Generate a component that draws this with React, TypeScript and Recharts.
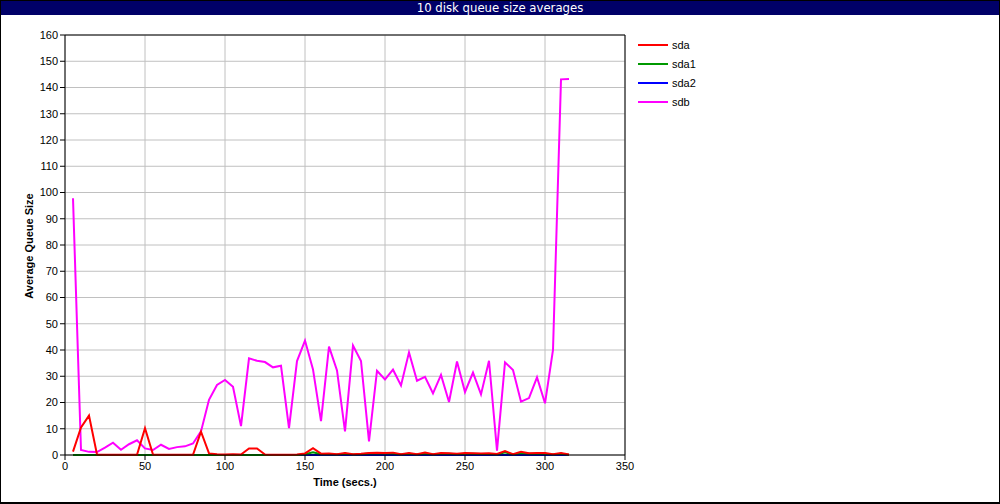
import React from 'react';
import { LineChart, Line, XAxis, YAxis, CartesianGrid, ReferenceLine } from 'recharts';

const TITLE = '10 disk queue size averages';
const X_LABEL = 'Time (secs.)';
const Y_LABEL = 'Average Queue Size';

const times = [5, 10, 15, 20, 25, 30, 35, 40, 45, 50, 55, 60, 65, 70, 75, 80, 85, 90, 95, 100,
  105, 110, 115, 120, 125, 130, 135, 140, 145, 150, 155, 160, 165, 170, 175, 180, 185, 190, 195, 200,
  205, 210, 215, 220, 225, 230, 235, 240, 245, 250, 255, 260, 265, 270, 275, 280, 285, 290, 295, 300,
  305, 310, 315];

const sda = [1.3, 10.5, 15.0, 0.2, 0.1, 0.1, 0.1, 0.1, 0.1, 10.2, 0.2, 0.1, 0.1, 0.1, 0.1, 0.1, 8.9, 0.6, 0.3, 0.2,
  0.3, 0.2, 2.5, 2.5, 0.2, 0.1, 0.1, 0.1, 0.2, 0.6, 2.6, 0.5, 0.6, 0.3, 0.8, 0.3, 0.5, 0.8, 0.9, 0.8,
  0.9, 0.3, 0.8, 0.3, 0.9, 0.3, 0.8, 0.7, 0.5, 0.8, 0.7, 0.6, 0.7, 0.4, 1.5, 0.3, 1.2, 0.7, 0.8, 0.8,
  0.3, 0.8, 0.2];

const sda1 = [0, 0, 0, 0, 0, 0, 0, 0, 0, 0, 0, 0, 0, 0, 0, 0, 0, 0, 0, 0,
  0, 0, 0, 0, 0, 0, 0, 0, 0, 0.3, 1.0, 0.3, 0.3, 0.2, 0.5, 0.2, 0.3, 0.6, 0.7, 0.6,
  0.6, 0.2, 0.5, 0.2, 0.6, 0.2, 0.5, 0.5, 0.3, 0.5, 0.5, 0.4, 0.4, 0.2, 1.0, 0.2, 0.8, 0.5, 0.5, 0.5,
  0.2, 0.5, 0.1];

const sda2 = [0, 0, 0, 0, 0, 0, 0, 0, 0, 0, 0, 0, 0, 0, 0, 0, 0, 0, 0, 0,
  0, 0, 0, 0, 0, 0, 0, 0, 0, 0, 0, 0, 0, 0, 0, 0, 0, 0, 0, 0,
  0, 0, 0, 0, 0, 0, 0, 0, 0, 0, 0, 0, 0, 0, 0, 0, 0, 0, 0, 0,
  0, 0, 0];

const sdb = [97.8, 1.9, 1.2, 1.1, 2.8, 4.7, 2.0, 4.1, 5.6, 2.5, 1.9, 3.9, 2.3, 3.0, 3.3, 4.4, 9.0, 21.0, 26.7, 28.6,
  26.0, 11.0, 36.8, 35.9, 35.4, 33.4, 34.0, 10.2, 35.8, 43.6, 32.6, 12.9, 41.3, 32.2, 9.0, 41.7, 35.8, 5.2, 32.1, 28.8,
  32.5, 26.5, 39.1, 28.3, 29.8, 23.5, 30.5, 20.2, 35.6, 24.0, 31.4, 23.1, 35.9, 1.7, 35.3, 32.4, 20.3, 21.7, 29.6, 19.7,
  40.0, 143.1, 143.2];

const xTicks = [0, 50, 100, 150, 200, 250, 300, 350];
const yTicks = [0, 10, 20, 30, 40, 50, 60, 70, 80, 90, 100, 110, 120, 130, 140, 150, 160];

const seriesNames = ['sda', 'sda1', 'sda2', 'sdb'];
const seriesColors = ['#ff0000', '#009900', '#0000ff', '#ff00ff'];

const data = times.map((t, i) => ({ t, sda: sda[i], sda1: sda1[i], sda2: sda2[i], sdb: sdb[i] }));

const FONT = '"Liberation Sans", Arial, Helvetica, sans-serif';

const LegendBox = () => (
  <div style={{ position: 'absolute', left: 638, top: 35, fontFamily: FONT, fontSize: 11, color: '#000' }}>
    {seriesNames.map((n, i) => (
      <div key={n} style={{ height: 19, display: 'flex', alignItems: 'center' }}>
        <div style={{ width: 30, height: 2, background: seriesColors[i] }} />
        <span style={{ marginLeft: 4 }}>{n}</span>
      </div>
    ))}
  </div>
);

export default function App() {
  const tickStyle = { fontFamily: FONT, fontSize: 11, fill: '#000' };
  return (
    <div style={{ position: 'absolute', left: 0, top: 0, width: 1000, height: 504, background: '#fff', overflow: 'hidden' }}>
      <div style={{ position: 'absolute', left: 0, top: 0, width: 1000, height: 504 }}>
        <LineChart width={1000} height={504} data={data} margin={{ top: 35, right: 375, bottom: 19, left: 5 }}>
          <CartesianGrid stroke="#c0c0c0" strokeWidth={1} />
          <XAxis
            dataKey="t"
            type="number"
            domain={[0, 350]}
            ticks={xTicks}
            interval={0}
            height={30}
            tickSize={5}
            tickMargin={2}
            stroke="#000"
            tick={tickStyle}
            label={() => (
              <text x={345} y={486} textAnchor="middle" style={{ fontFamily: FONT, fontSize: 11, fontWeight: 'bold', fill: '#000' }}>
                {X_LABEL}
              </text>
            )}
          />
          <YAxis
            type="number"
            domain={[0, 160]}
            ticks={yTicks}
            interval={0}
            width={60}
            tickSize={5}
            tickMargin={2}
            stroke="#000"
            tick={tickStyle}
            label={() => (
              <text x={33} y={246} transform="rotate(-90 33 246)" textAnchor="middle" style={{ fontFamily: FONT, fontSize: 11, fontWeight: 'bold', fill: '#000' }}>
                {Y_LABEL}
              </text>
            )}
          />
          <ReferenceLine y={160} stroke="#000" strokeWidth={1} />
          <ReferenceLine x={350} stroke="#000" strokeWidth={1} />
          <Line type="linear" dataKey="sdb" stroke={seriesColors[3]} strokeWidth={2} dot={false} isAnimationActive={false} />
          <Line type="linear" dataKey="sda2" stroke={seriesColors[2]} strokeWidth={2} dot={false} isAnimationActive={false} />
          <Line type="linear" dataKey="sda1" stroke={seriesColors[1]} strokeWidth={2} dot={false} isAnimationActive={false} />
          <Line type="linear" dataKey="sda" stroke={seriesColors[0]} strokeWidth={2} dot={false} isAnimationActive={false} />
        </LineChart>
      </div>
      <LegendBox />
      <div
        style={{
          position: 'absolute', left: 0, top: 0, width: 1000, height: 15, background: '#000068', color: '#fff',
          textAlign: 'center', fontFamily: '"Liberation Sans Narrow", "DejaVu Sans Condensed", Arial, sans-serif',
          fontSize: 13, lineHeight: '15px', whiteSpace: 'nowrap',
        }}
      >
        {TITLE}
      </div>
      <div
        style={{
          position: 'absolute', left: 0, top: 0, width: 1000, height: 504, boxSizing: 'border-box',
          borderLeft: '1px solid #000', borderTop: '1px solid #000', borderRight: '1px solid #000', borderBottom: '2px solid #000',
          pointerEvents: 'none',
        }}
      />
    </div>
  );
}
